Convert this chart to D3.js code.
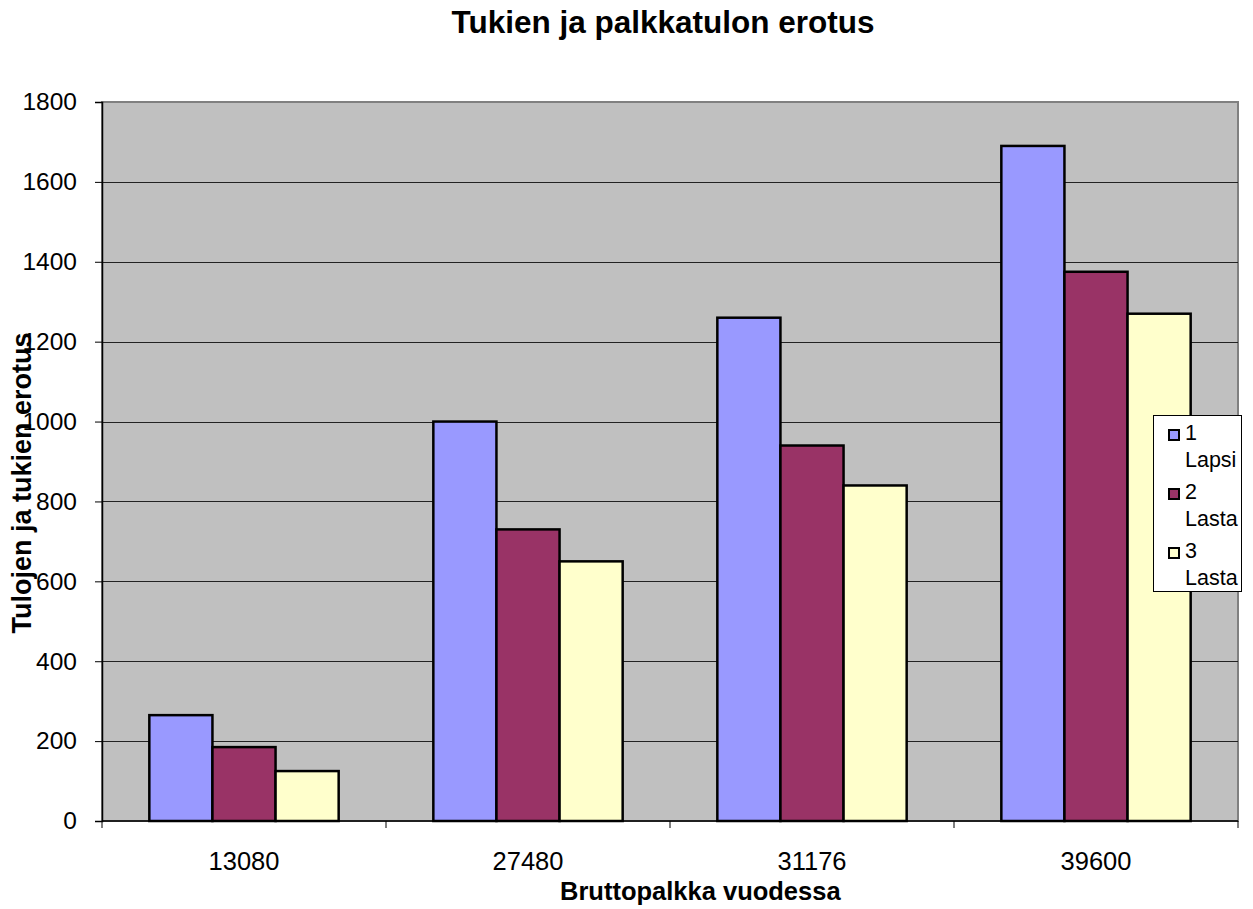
<!DOCTYPE html>
<html><head><meta charset="utf-8">
<script src="https://cdn.jsdelivr.net/npm/d3@7"></script>
<style>body{margin:0;background:#fff}svg{display:block;font-family:Arial,"Liberation Sans",sans-serif}</style>
</head><body>
<svg id="c" width="1253" height="909"></svg>
<script>
const categories = ["13080", "27480", "31176", "39600"];
const seriesNames = ["1 Lapsi", "2 Lasta", "3 Lasta"];
const lapsi1 = [265, 1000, 1260, 1690];
const lasta2 = [185, 730, 940, 1375];
const lasta3 = [125, 650, 840, 1270];
const yTicks = [0, 200, 400, 600, 800, 1000, 1200, 1400, 1600, 1800];
const colors = ["#9999FF", "#993366", "#FFFFCC"];
const series = [lapsi1, lasta2, lasta3];

const svg = d3.select("#c");
const L = 102, R = 1238, T = 102, B = 821;
const x = d3.scaleBand().domain(categories).range([L, R]).padding(0);
const xi = d3.scaleBand().domain(d3.range(3)).range([0, x.bandwidth()]).paddingInner(0).paddingOuter(0.75);
const y = d3.scaleLinear().domain([0, 1800]).range([B, T]);

svg.append("rect").attr("x", L).attr("y", T).attr("width", R - L).attr("height", B - T)
  .attr("fill", "#C0C0C0").attr("stroke", "#808080").attr("stroke-width", 2);

// gridlines
svg.append("g").selectAll("line").data(yTicks.filter(d => d > 0 && d < 1800)).join("line")
  .attr("x1", L).attr("x2", R).attr("y1", d => Math.round(y(d)) + 0.5).attr("y2", d => Math.round(y(d)) + 0.5)
  .attr("stroke", "#222").attr("stroke-width", 1.2);

// bars
const g = svg.append("g");
series.forEach((s, si) => {
  g.append("g").selectAll("rect").data(categories).join("rect")
    .attr("x", (c) => x(c) + xi(si))
    .attr("y", (c, i) => y(s[i]))
    .attr("width", xi.bandwidth())
    .attr("height", (c, i) => B - y(s[i]))
    .attr("fill", colors[si]).attr("stroke", "#000").attr("stroke-width", 2.5);
});

// y axis
const yAxis = d3.axisLeft(y).tickValues(yTicks).tickSize(7).tickPadding(18).tickFormat(d3.format("d"));
const ga = svg.append("g").attr("transform", `translate(${L},0)`).call(yAxis);
ga.select(".domain").attr("stroke", "#000").attr("stroke-width", 1.5);
ga.selectAll(".tick line").attr("stroke", "#000");
ga.selectAll("text").attr("font-size", 24.5).attr("fill", "#000").attr("font-family", "Arial, 'Liberation Sans', sans-serif");

// x axis
const gx = svg.append("g").attr("transform", `translate(0,${B})`);
gx.append("line").attr("x1", L).attr("x2", R).attr("y1", 0).attr("y2", 0).attr("stroke", "#000").attr("stroke-width", 1.5);
const bounds = categories.map(c => x(c)).concat([R]);
gx.selectAll("line.tk").data(bounds).join("line").attr("class", "tk")
  .attr("x1", d => d).attr("x2", d => d).attr("y1", 0).attr("y2", 7).attr("stroke", "#000");
gx.selectAll("text").data(categories).join("text")
  .attr("x", c => x(c) + x.bandwidth() / 2).attr("y", 49)
  .attr("text-anchor", "middle").attr("font-size", 25.5).text(c => c);

// titles
svg.append("text").attr("x", 663).attr("y", 33).attr("text-anchor", "middle")
  .attr("font-size", 31.5).attr("font-weight", "bold").text("Tukien ja palkkatulon erotus");
svg.append("text").attr("x", 560).attr("y", 900).attr("text-anchor", "start")
  .attr("font-size", 25.5).attr("font-weight", "bold").text("Bruttopalkka vuodessa");
svg.append("text").attr("transform", "translate(31,483) rotate(-90)").attr("text-anchor", "middle")
  .attr("font-size", 27).attr("font-weight", "bold").text("Tulojen ja tukien erotus");

// legend
const lg = svg.append("g");
lg.append("rect").attr("x", 1153.5).attr("y", 415.5).attr("width", 88).attr("height", 176)
  .attr("fill", "#fff").attr("stroke", "#000").attr("stroke-width", 1);
const baseY = [440, 499, 558];
seriesNames.forEach((n, i) => {
  const parts = n.split(" ");
  lg.append("rect").attr("x", 1169).attr("y", baseY[i] - 10).attr("width", 10).attr("height", 10)
    .attr("fill", colors[i]).attr("stroke", "#000").attr("stroke-width", 2);
  lg.append("text").attr("x", 1185).attr("y", baseY[i]).attr("font-size", 21.5).text(parts[0]);
  lg.append("text").attr("x", 1185).attr("y", baseY[i] + 27).attr("font-size", 21.5).text(parts[1]);
});
</script>
</body></html>
